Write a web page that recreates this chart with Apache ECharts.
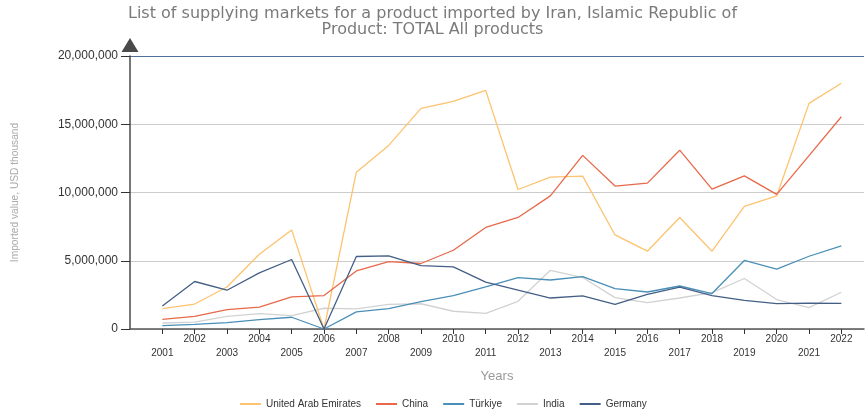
<!DOCTYPE html>
<html>
<head>
<meta charset="utf-8">
<script src="https://cdn.jsdelivr.net/npm/echarts@6/dist/echarts.min.js"></script>
<style>
  html, body { margin: 0; padding: 0; background: #fff; }
  #chart { width: 865px; height: 410px; }
</style>
</head>
<body>
<div id="chart"></div>
<script>
var years = [2001, 2002, 2003, 2004, 2005, 2006, 2007, 2008, 2009, 2010, 2011,
  2012, 2013, 2014, 2015, 2016, 2017, 2018, 2019, 2020, 2021, 2022];

var uae = [1500000, 1830000, 3080000, 5480000, 7260000, 0, 11490000, 13450000, 16160000, 16680000, 17480000,
  10220000, 11130000, 11200000, 6890000, 5700000, 8170000, 5700000, 8980000, 9750000, 16530000, 18000000];
var china = [710000, 930000, 1420000, 1610000, 2350000, 2450000, 4250000, 4940000, 4800000, 5770000, 7440000,
  8170000, 9750000, 12720000, 10470000, 10690000, 13100000, 10250000, 11220000, 9860000, 12700000, 15550000];
var turkiye = [250000, 340000, 470000, 690000, 860000, 0, 1250000, 1500000, 2010000, 2450000, 3080000,
  3770000, 3590000, 3840000, 2960000, 2710000, 3150000, 2600000, 5020000, 4380000, 5330000, 6090000];
var india = [440000, 510000, 930000, 1130000, 980000, 1520000, 1480000, 1810000, 1850000, 1300000, 1150000,
  2030000, 4300000, 3770000, 2300000, 1940000, 2270000, 2670000, 3700000, 2160000, 1570000, 2690000];
var germany = [1690000, 3480000, 2840000, 4110000, 5090000, 0, 5310000, 5360000, 4650000, 4550000, 3430000,
  2840000, 2270000, 2420000, 1810000, 2540000, 3060000, 2450000, 2100000, 1860000, 1900000, 1880000];

function pairs(vals) {
  return years.map(function (y, i) { return [y, vals[i]]; });
}

function line(name, vals, color) {
  return {
    name: name,
    type: 'line',
    data: pairs(vals),
    showSymbol: false,
    lineStyle: { color: color, width: 1.3 },
    itemStyle: { color: color }
  };
}

var myChart = echarts.init(document.getElementById('chart'));

var option = {
  animation: false,
  title: {
    text: 'List of supplying markets for a product imported by Iran, Islamic Republic of\nProduct: TOTAL All products',
    left: 'center',
    top: 1,
    textStyle: {
      fontFamily: 'DejaVu Sans',
      fontSize: 16,
      fontWeight: 'normal',
      color: '#7a7a7a',
      lineHeight: 16
    }
  },
  legend: {
    left: 235,
    top: 394,
    icon: 'rect',
    itemWidth: 21,
    itemHeight: 2,
    itemGap: 15,
    textStyle: { fontFamily: 'Liberation Sans', fontSize: 10, color: '#333' },
    data: ['United Arab Emirates', 'China', 'Türkiye', 'India', 'Germany']
  },
  grid: { left: 130, right: 1, top: 56, bottom: 81, containLabel: false },
  xAxis: {
    type: 'value',
    min: 2000,
    max: 2022.7,
    interval: 1,
    name: 'Years',
    nameLocation: 'middle',
    nameGap: 41,
    nameMoveOverlap: false,
    nameTextStyle: { fontFamily: 'Liberation Sans', fontSize: 13, color: '#999' },
    axisLine: { lineStyle: { color: '#555', width: 1.5 } },
    axisTick: { customValues: years, length: 5, lineStyle: { color: '#333' } },
    splitLine: { show: false },
    axisLabel: {
      customValues: years,
      margin: 3,
      fontFamily: 'Liberation Sans',
      fontSize: 10,
      color: '#333',
      lineHeight: 14,
      formatter: function (v) {
        return v % 2 === 1 ? '\n' + v : String(v);
      }
    }
  },
  yAxis: {
    type: 'value',
    min: 0,
    max: 20000000,
    interval: 5000000,
    name: 'Imported value, USD thousand',
    nameLocation: 'middle',
    nameGap: 110,
    nameMoveOverlap: false,
    nameTextStyle: { fontFamily: 'Liberation Sans', fontSize: 10.2, color: '#aaa' },
    axisLine: {
      show: true,
      symbol: ['none', 'triangle'],
      symbolSize: [17, 14],
      symbolOffset: [0, 11],
      lineStyle: { color: '#4a4a4a', width: 1.5 }
    },
    axisTick: { show: true, length: 9, lineStyle: { color: '#333' } },
    axisLabel: {
      margin: 12,
      fontFamily: 'Liberation Sans',
      fontSize: 12,
      color: '#333',
      formatter: function (v) { return v.toLocaleString('en-US'); }
    },
    splitLine: {
      lineStyle: { color: ['#ccc', '#ccc', '#ccc', '#ccc', '#4f6f9a'], width: 1 }
    }
  },
  series: [
    line('India', india, '#d2d2d2'),
    line('United Arab Emirates', uae, '#fdc36f'),
    line('China', china, '#e8694a'),
    line('Türkiye', turkiye, '#4a8fb8'),
    line('Germany', germany, '#445f86')
  ]
};

myChart.setOption(option);
</script>
</body>
</html>
